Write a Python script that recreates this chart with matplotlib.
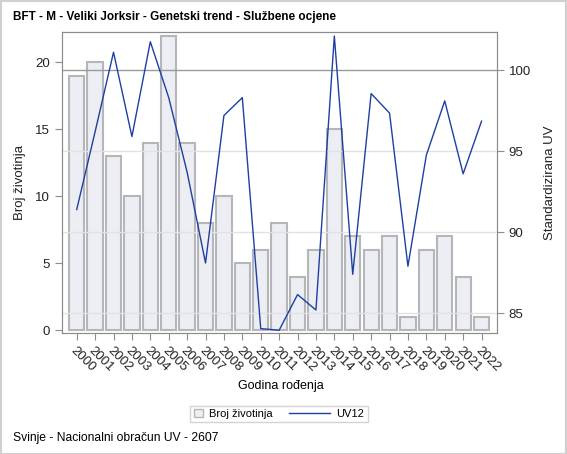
import matplotlib.pyplot as plt
from matplotlib.patches import Rectangle, Patch
from matplotlib.lines import Line2D
from matplotlib.legend_handler import HandlerBase

plt.rcParams['font.family'] = ['Liberation Sans', 'DejaVu Sans']

# Data
years = [str(y) for y in range(2000, 2023)]
broj = [19, 20, 13, 10, 14, 22, 14, 8, 10, 5, 6, 8, 4, 6, 15, 7, 6, 7, 1, 6, 7, 4, 1]
uv12 = [91.4, 96.2, 101.1, 95.9, 101.75, 98.3, 93.7, 88.1, 97.2, 98.3, 84.05, 83.95,
        86.15, 85.2, 102.1, 87.4, 98.55, 97.35, 87.9, 94.75, 98.1, 93.6, 96.85]

bar_fill = '#eceef3'
bar_edge = '#b4b6ba'
line_col = '#1f3fa3'
axis_col = '#8c8c8c'


class LongLineHandler(HandlerBase):
    # line handle that reaches back into the column gap
    def create_artists(self, legend, orig_handle, xdescent, ydescent,
                       width, height, fontsize, trans):
        y = height / 2 - ydescent
        ln = Line2D([-xdescent - 3.6 * width, -xdescent + width], [y, y],
                    color=orig_handle.get_color(), linewidth=orig_handle.get_linewidth(),
                    transform=trans)
        return [ln]


fig = plt.figure(figsize=(5.67, 4.54), dpi=100)
W, H = 567, 454
ax1 = fig.add_axes([62 / W, 1 - 333 / H, 435 / W, 301 / H])
ax2 = ax1.twinx()

x = list(range(len(years)))
ax1.bar(x, broj, width=0.83, color=bar_fill, edgecolor=bar_edge, linewidth=1.5, zorder=2)
ax1.set_ylim(-0.22, 22.27)
ax1.set_xlim(-0.8, 22.84)
ax1.set_yticks([0, 5, 10, 15, 20])
ax1.set_xticks(x)
ax1.set_xticklabels(years, rotation=-45, ha='left', va='top', rotation_mode='anchor')

ax2.plot(x, uv12, color=line_col, linewidth=1.0, zorder=3)
ax2.set_ylim(83.78, 102.35)
ax2.set_yticks([85, 90, 95, 100])
for v in [85, 90, 95]:
    ax2.axhline(v, color='#e2e2e2', linewidth=1.0, zorder=1)
ax2.axhline(100, color='#9a9a9a', linewidth=1.0, zorder=1)

for ax in (ax1, ax2):
    for s in ax.spines.values():
        s.set_color(axis_col)
    ax.tick_params(colors=axis_col, labelcolor='#222222', labelsize=9.5, length=5)

ax1.set_ylabel('Broj životinja', fontsize=9.5, color='#222222', labelpad=7)
ax2.set_ylabel('Standardizirana UV', fontsize=9.5, color='#222222', labelpad=9)

fig.text(13 / W, 1 - 17 / H, 'BFT - M - Veliki Jorksir - Genetski trend - Službene ocjene',
         fontsize=8.5, fontweight='bold', ha='left', va='center')
fig.text(281 / W, 1 - 386 / H, 'Godina rođenja', fontsize=9, ha='center', va='center')
fig.text(13 / W, 1 - 437.5 / H, 'Svinje - Nacionalni obračun UV - 2607',
         fontsize=8.7, ha='left', va='center')

line_handle = Line2D([], [], color=line_col, linewidth=1.0)
handles = [Patch(facecolor=bar_fill, edgecolor=bar_edge, linewidth=1.0), line_handle]
leg = fig.legend(handles, ['Broj životinja', 'UV12'], loc='center',
                 bbox_to_anchor=(279 / W, 1 - 414 / H), ncol=2, fontsize=8,
                 frameon=True, fancybox=False, handlelength=0.8, handleheight=0.8,
                 columnspacing=4.3, handletextpad=0.6, borderpad=0.3,
                 handler_map={line_handle: LongLineHandler()})
leg.get_frame().set_edgecolor('#c8c8c8')
leg.get_frame().set_linewidth(1.0)

fig.add_artist(Rectangle((0.001, 0.001), 0.997, 0.997, transform=fig.transFigure,
                         fill=False, edgecolor='#d0d0d0', linewidth=1.5))

fig.savefig('out.png', dpi=100)
